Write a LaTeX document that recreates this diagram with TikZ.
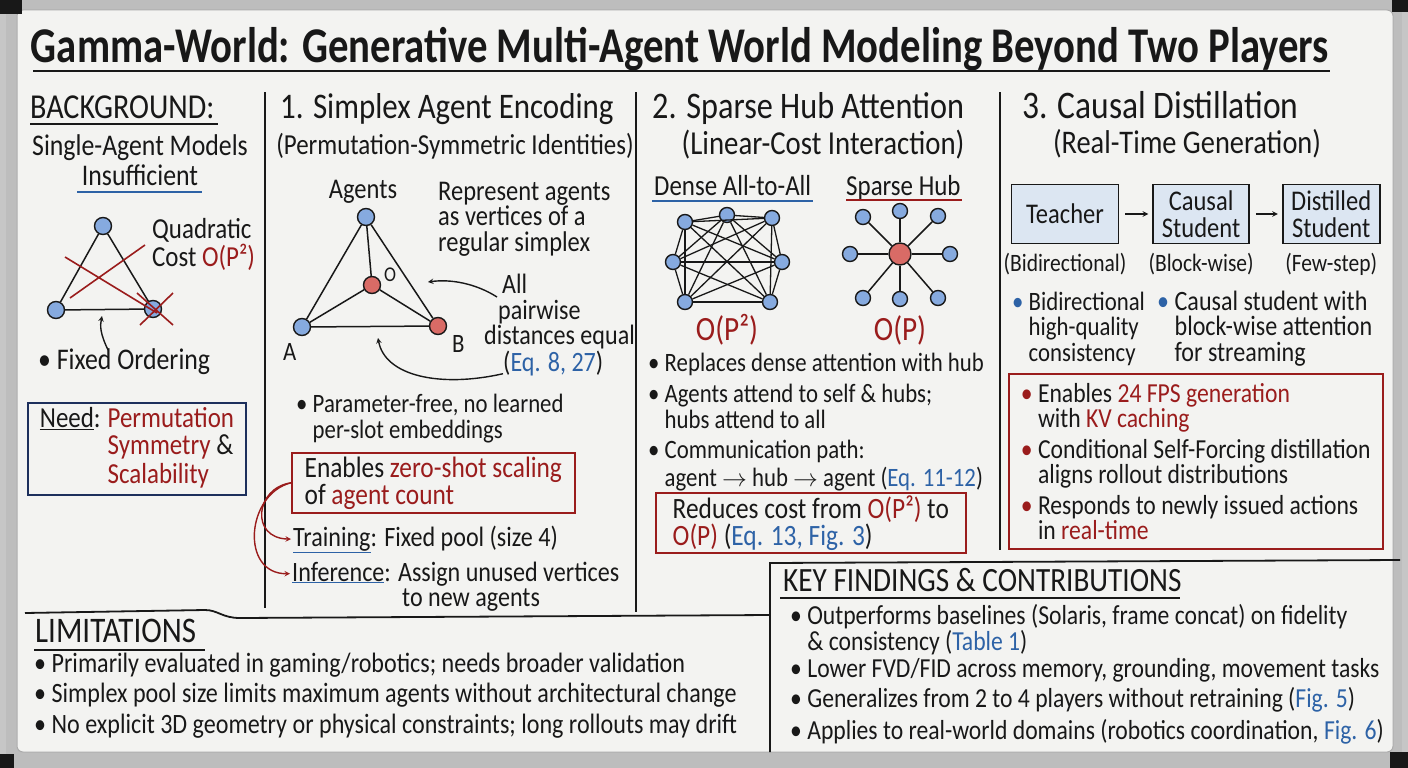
\documentclass[tikz,border=0pt]{standalone}
\usepackage{fontspec}
\usepackage{graphicx}
\setmainfont{Carlito}[FakeStretch=0.86]
\usetikzlibrary{positioning}
\definecolor{ink}{HTML}{181818}
\definecolor{redink}{HTML}{9A1C1C}
\definecolor{blueink}{HTML}{2D62A6}
\definecolor{navy}{HTML}{1D2F5C}
\definecolor{board}{HTML}{F3F3F1}
\definecolor{rim}{HTML}{BDBDBD}
\definecolor{agentblue}{HTML}{86AADF}
\definecolor{agentred}{HTML}{D96B66}
\definecolor{boxfill}{HTML}{DCE6F2}
\newcommand{\redt}[1]{\textcolor{redink}{#1}}
\newcommand{\bluet}[1]{\textcolor{blueink}{#1}}
\newcommand{\ulblue}[1]{\textcolor{blueink}{\underline{\textcolor{ink}{#1}}}}
\newcommand{\bulind}{\phantom{\textbullet\ }}

\begin{document}
\begin{tikzpicture}[x=1pt,y=-1pt,>=stealth,
    txt/.style={inner sep=0pt,anchor=base west,align=left,text=ink,font=\fontsize{26.5}{25.5}\selectfont},
    head/.style={txt,font=\fontsize{36}{40}\selectfont},
    sub/.style={txt,anchor=base,align=center,font=\fontsize{29}{32}\selectfont},
    lbl/.style={inner sep=0pt,text=ink,font=\fontsize{25}{26}\selectfont},
    agent/.style={circle,draw=ink,line width=1.4pt,fill=agentblue,minimum size=17pt,inner sep=0pt},
    hubnode/.style={agent,fill=agentred},
    edge/.style={ink,line width=1.5pt},
    redbox/.style={draw=redink,line width=1.6pt,anchor=north west,inner sep=0pt,align=left,text=ink,font=\fontsize{29.5}{27}\selectfont},
    flowbox/.style={draw=ink,fill=boxfill,line width=1.6pt,align=center,minimum height=59pt,inner sep=0pt,text=ink,font=\fontsize{28.5}{27}\selectfont}]
\useasboundingbox (0,0) rectangle (1408,768);
% whiteboard
\fill[rim] (0,0) rectangle (1408,768);
\fill[gray!45] (0,0) rectangle (6,768);
\fill[gray!45] (1402,0) rectangle (1408,768);
\fill[board,rounded corners=6pt] (17,10) rectangle (1393,752);
\draw[gray!65,line width=1pt,rounded corners=6pt] (17,10) rectangle (1393,752);
\fill[ink] (0,0) rectangle (22,14);
\fill[ink] (1392,0) rectangle (1408,12);
\fill[ink] (0,754) rectangle (14,768);
\fill[ink] (1390,752) rectangle (1408,768);

% title
\node[inner sep=0pt,anchor=base,text=ink] (title) at (680,63) {\resizebox{1298pt}{\height}{\fontsize{50}{56}\selectfont\bfseries Gamma-World: Generative Multi-Agent World Modeling Beyond Two Players}};
\draw[ink,line width=2.6pt] (33,71) -- (1330,71);

% dividers
\draw[edge,line width=1.8pt] (265,92) -- (265,608);
\draw[edge,line width=1.8pt] (636,92) -- (636,612);
\draw[edge,line width=1.8pt] (1000,92) -- (1000,550);

% background
\node[head,font=\fontsize{35}{38}\selectfont] (bghead) at (30,118) {BACKGROUND:};
\draw[ink,line width=2pt] (30,124) -- (218,124);
\node[sub,font=\fontsize{30}{32}\selectfont] (single) at (140,155) {Single-Agent Models};
\node[sub,font=\fontsize{30}{32}\selectfont] (insuff) at (140,185) {Insufficient};
\draw[blueink,line width=1.8pt] (77,192) -- (202,192);
\node[agent] (t1) at (103,226) {};
\node[agent] (t2) at (56,310) {};
\node[agent] (t3) at (153,309) {};
\draw[edge] (t1) -- (t2) -- (t3) -- (t1);
\draw[redink,line width=1.6pt] (65,257) -- (157,313) (70,298) -- (145,245)
  (137,293) -- (173,325) (140,325) -- (173,293);
\node[txt,font=\fontsize{29}{28}\selectfont] (quad) at (152,266) {Quadratic\\Cost \redt{O(P²)}};
\node[txt,font=\fontsize{30}{30}\selectfont] (fixed) at (38,369) {\textbullet\ Fixed Ordering};
\coordinate (fixtip) at (102,316);
\draw[ink,line width=1.4pt,->] ([xshift=70pt,yshift=-2pt]fixed.north west) .. controls (100,333) and (100,326) .. (fixtip);
\node[draw=navy,line width=1.8pt,minimum width=218pt,minimum height=92pt,inner sep=0pt,text=ink,
  font=\fontsize{29}{26.5}\selectfont] (need) at (137,449)
  {\begin{tabular}{@{}l@{}l@{}}\underline{Need}:\hspace{7pt} & \redt{Permutation}\\ & \redt{Symmetry} \&\\ & \redt{Scalability}\end{tabular}};

% 1. simplex agent encoding
\node[head] (h1) at (280,118) {1. Simplex Agent Encoding};
\node[sub] (h1sub) at (455,154) {(Permutation-Symmetric Identities)};
\node[sub,font=\fontsize{28.5}{30}\selectfont] (agents) at (363,198) {Agents};
\node[agent] (v1) at (366,217) {};
\node[hubnode] (vo) at (372,285) {};
\node[agent] (va) at (302,327) {};
\node[hubnode] (vb) at (438,326) {};
\draw[edge] (v1) -- (va) -- (vb) -- (v1) (v1) -- (vo) (va) -- (vo) -- (vb);
\node[txt,font=\fontsize{21}{21}\selectfont] (olbl) at (384,281) {O};
\node[txt] (albl) at (283,360) {A};
\node[txt] (blbl) at (452,352) {B};
\node[txt,font=\fontsize{28.5}{25.5}\selectfont] (repr) at (438,251) {Represent agents\\as vertices of a\\regular simplex};
\node[txt,font=\fontsize{28}{26}\selectfont] (all) at (502,293) {All};
\node[txt,font=\fontsize{28}{26}\selectfont] (pairw) at (498,319) {pairwise};
\node[txt,font=\fontsize{28}{26}\selectfont] (dist) at (484,344) {distances equal};
\node[txt,font=\fontsize{28}{26}\selectfont] (eqref) at (503,371) {(\bluet{Eq. 8, 27})};
\coordinate (alltip) at (428,282);
\coordinate (simtip) at (378,338);
\draw[ink,line width=1.4pt,->] ([xshift=-5pt,yshift=-4pt]all.base west) .. controls (475,283) and (450,279) .. (alltip);
\draw[ink,line width=1.4pt,->] ([yshift=2pt]eqref.south west) .. controls (440,388) and (385,376) .. (simtip);
\node[txt] (param) at (296,438) {\textbullet\ Parameter-free, no learned\\\bulind per-slot embeddings};
\node[redbox,minimum width=283pt,minimum height=60pt] (zeroshot) at (291,452)
  {Enables \redt{zero-shot scaling}\\of \redt{agent count}};
\node[txt,font=\fontsize{28}{28}\selectfont] (train) at (293,546) {\ulblue{Training}: Fixed pool (size 4)};
\node[txt,font=\fontsize{28}{28}\selectfont] (infer) at (292,581) {\ulblue{Inference}: Assign unused vertices};
\node[txt,font=\fontsize{28}{28}\selectfont] (infer2) at (402,606) {to new agents};
\draw[redink,line width=1.4pt,->,shorten >=2pt] (zeroshot.west) .. controls (255,488) and (250,538) .. (train.west);
\draw[redink,line width=1.4pt,->,shorten >=2pt] (zeroshot.west) .. controls (246,494) and (240,574) .. (infer.west);

% 2. sparse hub attention
\node[head,font=\fontsize{37.5}{40}\selectfont] (h2) at (652,118) {2. Sparse Hub Attention};
\node[sub,font=\fontsize{33.5}{36}\selectfont] (h2sub) at (823,154) {(Linear-Cost Interaction)};
\node[txt,font=\fontsize{29}{28}\selectfont] (dense) at (654,195) {Dense All-to-All};
\draw[blueink,line width=1.8pt] (652,201) -- (813,201);
\node[txt,font=\fontsize{29}{28}\selectfont] (sparse) at (846,195) {Sparse Hub};
\draw[redink,line width=1.8pt] (846,200) -- (962,200);
\foreach \n/\p in {1/{685,222},2/{727,215},3/{772,218},4/{673,262},5/{782,262},6/{685,302},7/{770,302}}
  \node[agent,minimum size=15pt] (d\n) at (\p) {};
\foreach \i in {1,...,6}{
  \pgfmathtruncatemacro\k{\i+1}
  \foreach \j in {\k,...,7}
    \draw[edge,line width=1.3pt] (d\i) -- (d\j);
}
\node[sub,text=redink,font=\fontsize{34}{36}\selectfont] (densecost) at (727,340) {O(P²)};
\node[hubnode,minimum size=22pt] (hub) at (900,254) {};
\foreach \n/\p in {1/{863,217},2/{900,211},3/{938,216},4/{850,254},5/{950,254},6/{863,298},7/{900,299},8/{938,298}}{
  \node[agent,minimum size=15pt] (s\n) at (\p) {};
  \draw[edge] (hub) -- (s\n);
}
\node[sub,text=redink,font=\fontsize{34}{36}\selectfont] (hubcost) at (900,340) {O(P)};
\node[txt] (repl) at (648,371) {\textbullet\ Replaces dense attention with hub};
\node[txt] (attend) at (648,428) {\textbullet\ Agents attend to self \& hubs;\\\bulind hubs attend to all};
\node[txt,font=\fontsize{26.5}{28}\selectfont] (comm) at (648,486) {\textbullet\ Communication path:\\\bulind agent $\rightarrow$ hub $\rightarrow$ agent (\bluet{Eq. 11-12})};
\node[redbox,minimum width=310pt,minimum height=60pt] (cost) at (655,492)
  {Reduces cost from \redt{O(P²)} to\\\redt{O(P)} (\bluet{Eq. 13, Fig. 3})};

% 3. causal distillation
\node[head,font=\fontsize{39}{42}\selectfont] (h3) at (1022,118) {3. Causal Distillation};
\node[sub,font=\fontsize{33}{36}\selectfont] (h3sub) at (1187,153) {(Real-Time Generation)};
\node[flowbox,minimum width=107pt] (teacher) at (1065,214) {Teacher};
\node[flowbox,minimum width=96pt,right=33pt of teacher] (causal) {Causal\\Student};
\node[flowbox,minimum width=97pt,right=32pt of causal] (distilled) {Distilled\\Student};
\draw[ink,line width=1.5pt,->,shorten <=6pt,shorten >=4pt] (teacher) -- (causal);
\draw[ink,line width=1.5pt,->,shorten <=6pt,shorten >=4pt] (causal) -- (distilled);
\node[lbl,below=9pt of teacher] (tlbl) {(Bidirectional)};
\node[lbl,below=9pt of causal] (clbl) {(Block-wise)};
\node[lbl,below=9pt of distilled] (dlbl) {(Few-step)};
\node[txt] (bidir) at (1012,361) {\bluet{\textbullet}\ Bidirectional\\\bulind high-quality\\\bulind consistency};
\node[txt,font=\fontsize{28}{25.5}\selectfont] (causb) at (1157,361) {\bluet{\textbullet}\ Causal student with\\\bulind block-wise attention\\\bulind for streaming};
\node[redbox,minimum width=374pt,minimum height=175pt,font=\fontsize{27.5}{25.5}\selectfont] (fps) at (1008,373)
  {\redt{\textbullet}\ Enables \redt{24 FPS generation}\\
   \bulind with \redt{KV caching}\\[5pt]
   \redt{\textbullet}\ Conditional Self-Forcing distillation\\
   \bulind aligns rollout distributions\\[5pt]
   \redt{\textbullet}\ Responds to newly issued actions\\
   \bulind in \redt{real-time}};

% key findings
\draw[edge,line width=1.8pt] (770,752) -- (770,563) -- (1400,560);
\node[txt,font=\fontsize{34}{34}\selectfont] (kf) at (783,591) {KEY FINDINGS \& CONTRIBUTIONS};
\draw[ink,line width=2pt] (780,598) -- (1180,598);
\node[txt,font=\fontsize{27.5}{26}\selectfont] (kf1) at (790,650) {\textbullet\ Outperforms baselines (Solaris, frame concat) on fidelity\\\bulind \& consistency (\bluet{Table 1})};
\node[txt,font=\fontsize{27.5}{26}\selectfont] (kf2) at (790,677) {\textbullet\ Lower FVD/FID across memory, grounding, movement tasks};
\node[txt,font=\fontsize{27.5}{26}\selectfont] (kf3) at (790,707) {\textbullet\ Generalizes from 2 to 4 players without retraining (\bluet{Fig. 5})};
\node[txt,font=\fontsize{27.5}{26}\selectfont] (kf4) at (790,739) {\textbullet\ Applies to real-world domains (robotics coordination, \bluet{Fig. 6})};

% limitations
\draw[edge,line width=1.8pt] (25,613) -- (205,610) .. controls (218,610) and (222,618) .. (240,618) -- (770,615);
\node[txt,font=\fontsize{36}{36}\selectfont] (lim) at (35,642) {LIMITATIONS};
\draw[ink,line width=2pt] (34,650) -- (205,650);
\node[txt,font=\fontsize{28}{28}\selectfont] (lim1) at (34,672) {\textbullet\ Primarily evaluated in gaming/robotics; needs broader validation};
\node[txt,font=\fontsize{28}{28}\selectfont] (lim2) at (34,702) {\textbullet\ Simplex pool size limits maximum agents without architectural change};
\node[txt,font=\fontsize{28}{28}\selectfont] (lim3) at (34,733) {\textbullet\ No explicit 3D geometry or physical constraints; long rollouts may drift};
\end{tikzpicture}
\end{document}
